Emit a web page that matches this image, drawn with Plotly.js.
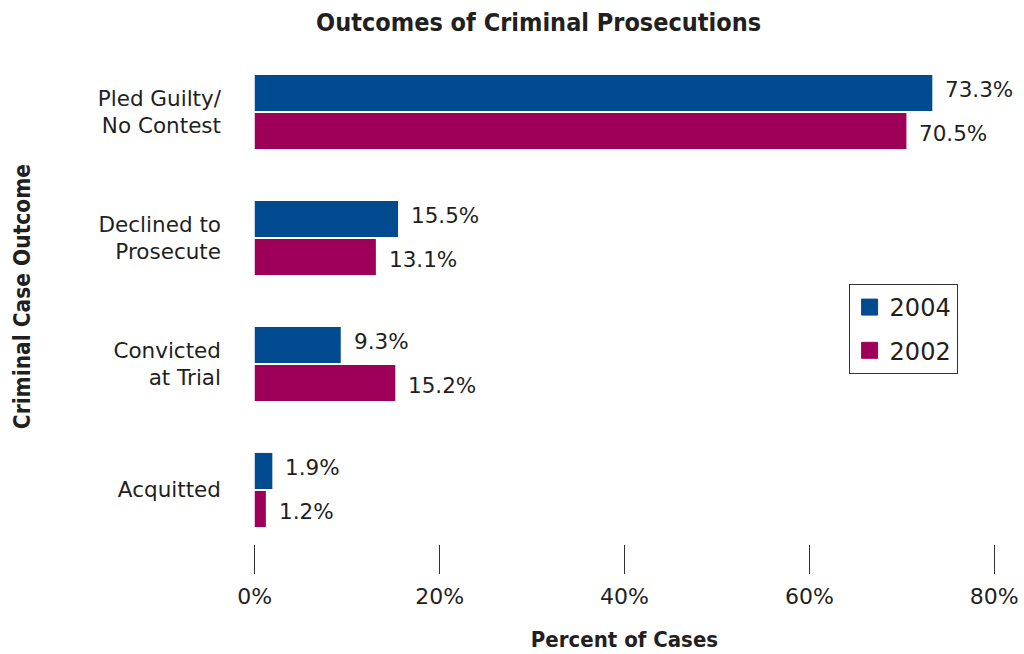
<!DOCTYPE html>
<html>
<head>
<meta charset="utf-8">
<script src="https://cdn.plot.ly/plotly-3.0.1.min.js"></script>
<style>html,body{margin:0;padding:0;background:#fff;}#chart{width:1024px;height:654px;}</style>
</head>
<body>
<div id="chart"></div>
<script>
const categories = ["Pled Guilty/<br>No Contest", "Declined to<br>Prosecute", "Convicted<br>at Trial", "Acquitted"];
const values2004 = [73.3, 15.5, 9.3, 1.9];
const values2002 = [70.5, 13.1, 15.2, 1.2];
const seriesNames = ["2004", "2002"];
const xTickVals = [0, 20, 40, 60, 80];
const xTickText = ["0%", "20%", "40%", "60%", "80%"];

const BLUE = "#004a8f";
const MAGENTA = "#9e0059";
const TEXT = "#231f20";
const FONT = "DejaVu Sans, sans-serif";
const BOLD = "DejaVu Sans Condensed, DejaVu Sans, sans-serif";
const colors = [BLUE, MAGENTA];

const L = 252, R = 26.5, T = 50, B = 80;
const PW = 1024 - L - R, PH = 654 - T - B;

const traces = [
  {type: "bar", orientation: "h", name: seriesNames[0], y: categories, x: values2004,
   marker: {color: BLUE}, showlegend: false, hoverinfo: "x"},
  {type: "bar", orientation: "h", name: seriesNames[1], y: categories, x: values2002,
   marker: {color: MAGENTA}, showlegend: false, hoverinfo: "x"}
];
// legend entries (square swatches)
seriesNames.forEach((n, s) => {
  traces.push({type: "scatter", mode: "markers", name: n, x: [null], y: [null],
    marker: {symbol: "square", size: 16, color: colors[s], line: {width: 1, color: colors[s]}},
    legendgroup: "g" + s, showlegend: true, hoverinfo: "skip"});
});

const annotations = [];
[values2004, values2002].forEach((vals, s) => {
  vals.forEach((v, i) => {
    annotations.push({
      x: v, y: categories[i], xref: "x", yref: "y",
      text: v.toFixed(1) + "%", showarrow: false,
      xanchor: "left", yanchor: "middle",
      xshift: 11, yshift: s === 0 ? 22 : -22,
      font: {family: FONT, size: 21.5, color: TEXT}
    });
  });
});
annotations.push({
  text: "<b>Criminal Case Outcome</b>", textangle: -90, showarrow: false,
  xref: "paper", yref: "paper", x: (22 - L) / PW, y: (654 - B - 297) / PH,
  xanchor: "center", yanchor: "middle",
  font: {family: BOLD, size: 22.5, color: TEXT}
});

const layout = {
  width: 1024, height: 654,
  margin: {l: L, r: R, t: T, b: B, pad: 0},
  paper_bgcolor: "#fff", plot_bgcolor: "#fff",
  barmode: "group", bargap: 0.397, bargroupgap: 0.05,
  title: {
    text: "<b>Outcomes of Criminal Prosecutions</b>",
    font: {family: BOLD, size: 25, color: TEXT},
    x: 0.526, xanchor: "center", xref: "container",
    y: 1 - 22/654, yanchor: "middle", yref: "container"
  },
  xaxis: {
    range: [-0.3, 80.3], tickvals: xTickVals, ticktext: xTickText,
    ticks: "inside", ticklen: 29, tickwidth: 1, tickcolor: "#333",
    showgrid: false, zeroline: false, showline: false,
    tickfont: {family: FONT, size: 22, color: TEXT},
    ticklabelstandoff: 7,
    title: {text: "<b>Percent of Cases</b>", font: {family: BOLD, size: 22, color: TEXT}, standoff: 23}
  },
  yaxis: {
    type: "category", range: [3.667, -0.492],
    showgrid: false, zeroline: false, showline: false, ticks: "",
    tickfont: {family: FONT, size: 21.5, color: TEXT},
    ticklabelstandoff: 30
  },
  showlegend: true,
  legend: {
    x: (849 - L) / PW, y: (654 - B - 284) / PH, xanchor: "left", yanchor: "top",
    bordercolor: "#333", borderwidth: 1, bgcolor: "#fff",
    font: {family: FONT, size: 24, color: TEXT},
    traceorder: "grouped", tracegroupgap: 9
  },
  annotations: annotations
};

Plotly.newPlot("chart", traces, layout, {displayModeBar: false, staticPlot: true});
</script>
</body>
</html>
